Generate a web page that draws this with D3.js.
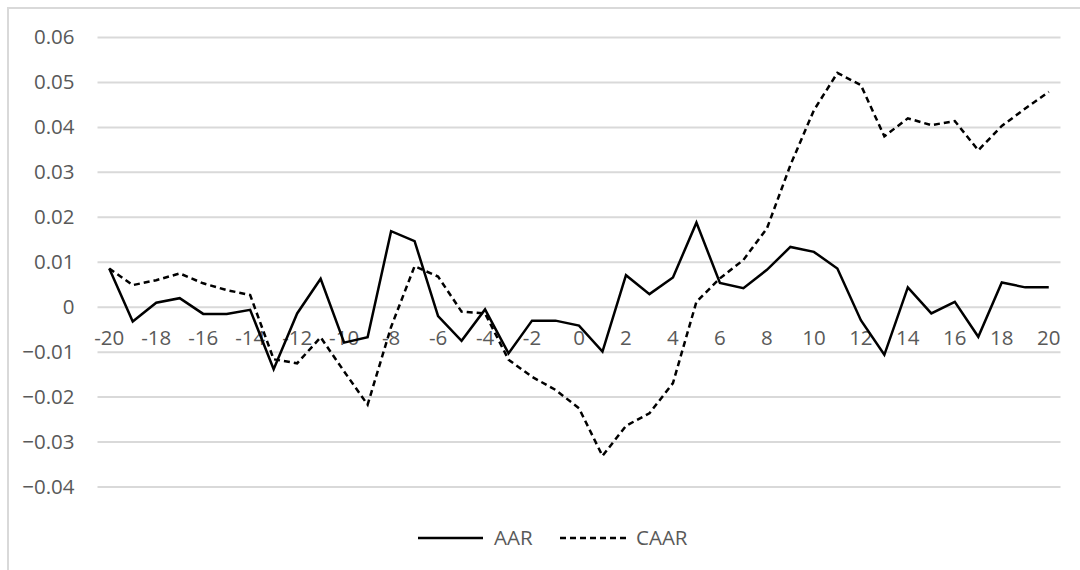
<!DOCTYPE html>
<html>
<head>
<meta charset="utf-8">
<script src="https://cdn.jsdelivr.net/npm/d3@7"></script>
<style>
  html, body { margin: 0; padding: 0; background: #fff; }
  svg { display: block; }
  text { font-family: "Open Sans", "Noto Sans", sans-serif; fill: #595959; }
</style>
</head>
<body>
<svg id="chart" width="1080" height="570"></svg>
<script>
const categories = [-20,-19,-18,-17,-16,-15,-14,-13,-12,-11,-10,-9,-8,-7,-6,-5,-4,-3,-2,-1,0,1,2,3,4,5,6,7,8,9,10,11,12,13,14,15,16,17,18,19,20];
const aar = [0.0085,-0.0033,0.0009,0.0019,-0.0016,-0.0016,-0.0007,-0.0139,-0.0015,0.0062,
             -0.0080,-0.0068,0.0168,0.0146,-0.0021,-0.0076,-0.0006,-0.0104,-0.0031,-0.0031,
             -0.0042,-0.0100,0.0070,0.0028,0.0065,0.0187,0.0053,0.0041,0.0082,0.0133,
             0.0122,0.0085,-0.0030,-0.0107,0.0043,-0.0015,0.0011,-0.0067,0.0054,0.0043,0.0043];
const caar = [0.0085,0.0048,0.0059,0.0074,0.0052,0.0037,0.0026,-0.0117,-0.0126,-0.0068,
              -0.0144,-0.0218,-0.0045,0.0090,0.0067,-0.0011,-0.0015,-0.0118,-0.0156,-0.0185,
              -0.0226,-0.0332,-0.0265,-0.0237,-0.0170,0.0011,0.0063,0.0104,0.0174,0.0315,
              0.0437,0.0520,0.0493,0.0379,0.0419,0.0404,0.0413,0.0348,0.0402,0.0441,0.0478];
const yTicks = [-0.04,-0.03,-0.02,-0.01,0,0.01,0.02,0.03,0.04,0.05,0.06];
const xTickLabels = [-20,-18,-16,-14,-12,-10,-8,-6,-4,-2,0,2,4,6,8,10,12,14,16,18,20];
const seriesNames = ["AAR", "CAAR"];

const svg = d3.select("#chart");
const W = 1080, H = 570;

// outer border
svg.append("rect")
  .attr("x", 8).attr("y", 8).attr("width", W + 10).attr("height", H + 10)
  .attr("fill", "none").attr("stroke", "#d9d9d9").attr("stroke-width", 2);

const x = d3.scaleBand().domain(categories).range([97.5, 1060.5]);
const cx = c => x(c) + x.bandwidth() / 2;
const y = d3.scaleLinear().domain([-0.04, 0.06]).range([486.5, 37]);

const fmt = d => d === 0 ? "0" : d3.format(".2f")(d);

// gridlines + y labels
const gy = svg.append("g").attr("transform", "translate(97.5,0)")
  .call(d3.axisLeft(y).tickValues(yTicks).tickSize(-(1060.5 - 97.5)).tickPadding(23).tickFormat(fmt));
gy.select(".domain").remove();
gy.selectAll(".tick line").attr("stroke", "#d9d9d9").attr("stroke-width", 2);
gy.selectAll(".tick text").attr("font-size", 20.5).attr("fill", "#595959")
  .style("font-family", '"Open Sans", "Noto Sans", sans-serif');

// x axis labels at y=0
const gx = svg.append("g").attr("transform", `translate(0,${y(0)})`)
  .call(d3.axisBottom(x).tickValues(xTickLabels).tickSize(0).tickPadding(24));
gx.select(".domain").remove();
gx.selectAll(".tick text").attr("font-size", 20.5).attr("fill", "#595959")
  .style("font-family", '"Open Sans", "Noto Sans", sans-serif');

const line = d3.line().x((d, i) => cx(categories[i])).y(d => y(d));

svg.append("path").datum(caar)
  .attr("d", line).attr("fill", "none").attr("stroke", "#000")
  .attr("stroke-width", 2.5).attr("stroke-dasharray", "6,4");

svg.append("path").datum(aar)
  .attr("d", line).attr("fill", "none").attr("stroke", "#000")
  .attr("stroke-width", 2.5);

// legend
const lg = svg.append("g");
lg.append("line").attr("x1", 418).attr("x2", 483).attr("y1", 538).attr("y2", 538)
  .attr("stroke", "#000").attr("stroke-width", 2.5);
lg.append("text").attr("x", 494).attr("y", 538).attr("dy", "0.35em")
  .attr("font-size", 20.5).text(seriesNames[0]);
lg.append("line").attr("x1", 560).attr("x2", 630).attr("y1", 538).attr("y2", 538)
  .attr("stroke", "#000").attr("stroke-width", 2.5).attr("stroke-dasharray", "6,4");
lg.append("text").attr("x", 636).attr("y", 538).attr("dy", "0.35em")
  .attr("font-size", 20.5).text(seriesNames[1]);
</script>
</body>
</html>
